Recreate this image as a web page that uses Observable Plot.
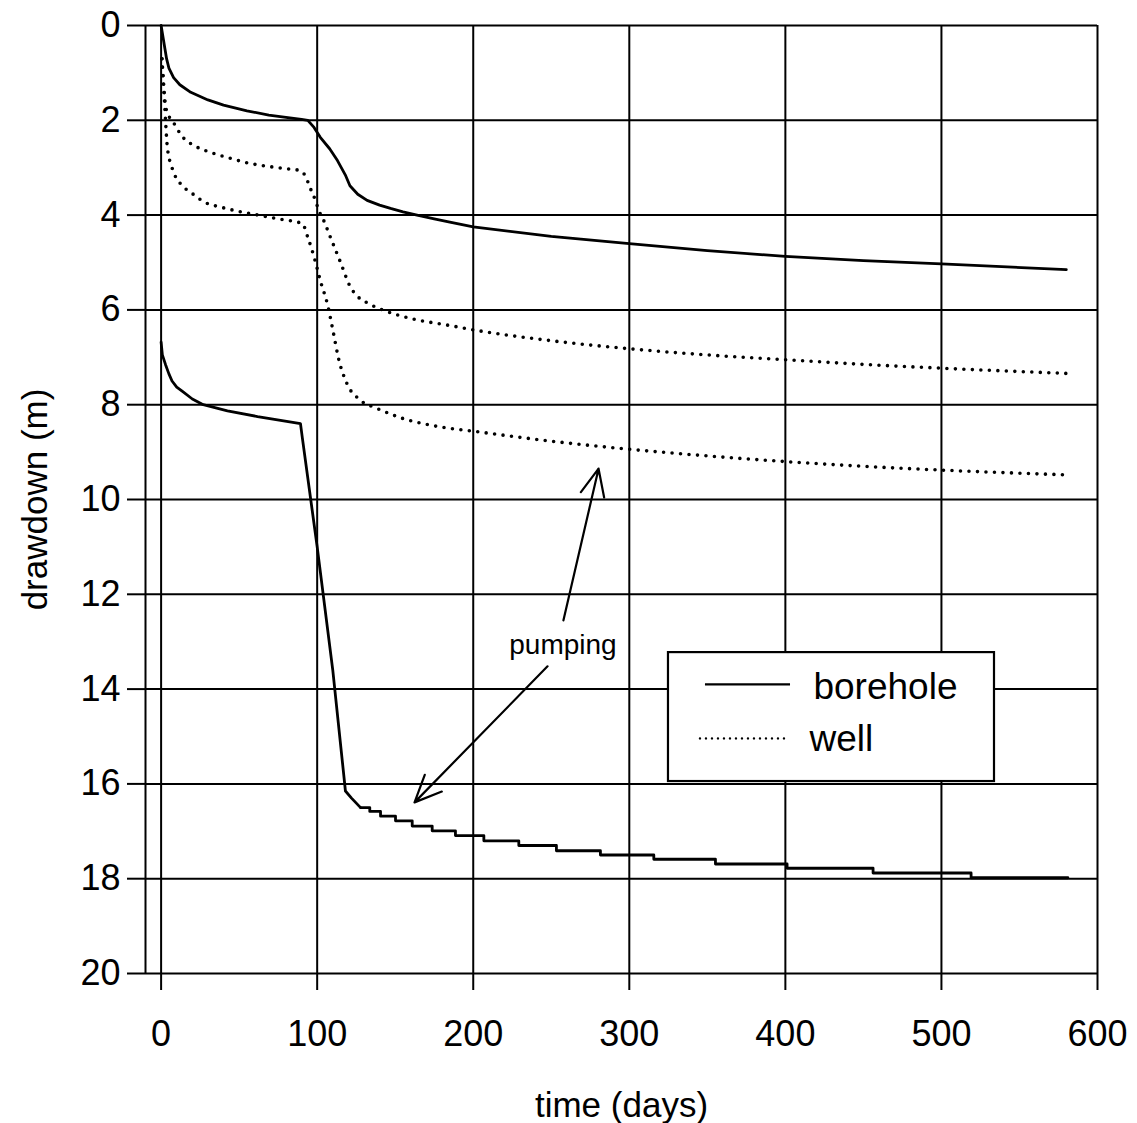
<!DOCTYPE html>
<html>
<head>
<meta charset="utf-8">
<script src="https://cdn.jsdelivr.net/npm/d3@7"></script>
<script src="https://cdn.jsdelivr.net/npm/@observablehq/plot@0.6"></script>
<style>
  html, body { margin: 0; padding: 0; background: #fff; }
  #chart { width: 1137px; height: 1123px; }
</style>
</head>
<body>
<div id="chart"></div>
<script>
// ---- axis ticks ----
const xTicks = [0, 100, 200, 300, 400, 500, 600];
const yTicks = [0, 2, 4, 6, 8, 10, 12, 14, 16, 18, 20];

// ---- series: borehole (upper curve) ----
const boreholeUpperDays = [0, 1.5, 2.5, 3.5, 5, 8, 12, 19, 30, 40, 55, 69, 80, 90, 94, 98, 102, 108, 113, 118, 121, 126, 132, 140, 147, 155, 164, 175, 185, 200, 250, 300, 350, 400, 450, 500, 580];
const boreholeUpperDrawdown = [0, 0.3, 0.5, 0.7, 0.9, 1.1, 1.25, 1.41, 1.57, 1.68, 1.8, 1.89, 1.94, 1.98, 2.0, 2.15, 2.36, 2.6, 2.85, 3.15, 3.38, 3.56, 3.69, 3.79, 3.86, 3.93, 4.0, 4.08, 4.15, 4.25, 4.45, 4.6, 4.75, 4.87, 4.96, 5.03, 5.15];

// ---- series: borehole (lower curve), smooth part ----
const boreholeLowerDays = [0, 0.8, 2.8, 5, 7, 10, 13.7, 20, 27, 42.5, 61.8, 89.3, 90.5, 100, 110, 117, 118.1, 122, 127.8];
const boreholeLowerDrawdown = [6.68, 6.95, 7.15, 7.35, 7.5, 7.63, 7.72, 7.88, 8.0, 8.13, 8.25, 8.4, 8.7, 11.0, 13.6, 15.8, 16.15, 16.3, 16.5];
// ---- stepped tail of the lower borehole curve ----
const boreholeStepDays = [127.8, 133.7, 140.6, 150.2, 160.9, 173.7, 188.6, 206.8, 229.2, 253.3, 281.5, 315.7, 355.2, 401.1, 456.2, 519, 581];
const boreholeStepDrawdown = [16.5, 16.58, 16.68, 16.78, 16.89, 16.99, 17.09, 17.2, 17.3, 17.41, 17.5, 17.59, 17.69, 17.78, 17.88, 17.98, 17.98];

// ---- series: well (upper curve) ----
const wellUpperDays = [0.5, 1.5, 2.5, 4, 7, 14, 21, 32, 42, 57, 68, 80, 89, 92, 95.8, 99, 101, 104, 108.5, 115, 121, 126, 132, 142, 160, 185, 200, 250, 300, 350, 400, 450, 500, 580];
const wellUpperDrawdown = [0.7, 1.2, 1.6, 1.85, 2.0, 2.36, 2.53, 2.68, 2.78, 2.91, 2.97, 3.02, 3.06, 3.15, 3.45, 3.7, 3.9, 4.1, 4.47, 5.0, 5.5, 5.72, 5.85, 6.0, 6.18, 6.33, 6.42, 6.65, 6.82, 6.95, 7.05, 7.15, 7.23, 7.34];

// ---- series: well (lower curve) ----
const wellLowerDays = [0.5, 2, 3, 4, 7, 12.4, 19, 28, 38, 51, 59, 75, 90.5, 94, 99, 102, 106.5, 110.5, 113.5, 119, 127.5, 138.5, 153, 181, 200, 250, 300, 350, 400, 450, 500, 580];
const wellLowerDrawdown = [0.7, 1.5, 2.1, 2.57, 3.0, 3.34, 3.52, 3.73, 3.83, 3.93, 3.98, 4.08, 4.18, 4.47, 5.0, 5.38, 5.87, 6.5, 7.0, 7.55, 7.9, 8.08, 8.27, 8.48, 8.56, 8.77, 8.94, 9.08, 9.2, 9.3, 9.38, 9.48];

// ---- labels ----
const legendLabels = ["borehole", "well"];
const annotationText = "pumping";

const zip = (xs, ys) => xs.map((t, i) => ({t, d: ys[i]}));
const boreholeUpper = zip(boreholeUpperDays, boreholeUpperDrawdown);
const boreholeLower = zip(boreholeLowerDays, boreholeLowerDrawdown);
const boreholeSteps = zip(boreholeStepDays, boreholeStepDrawdown);
const wellUpper = zip(wellUpperDays, wellUpperDrawdown);
const wellLower = zip(wellLowerDays, wellLowerDrawdown);

const solid = {x: "t", y: "d", stroke: "black", strokeWidth: 2.8, strokeLinejoin: "round"};
const dotted = {x: "t", y: "d", stroke: "black", strokeWidth: 3.6, strokeDasharray: "0,8.5", strokeLinecap: "round", curve: "monotone-x"};
const gridStyle = {stroke: "black", strokeOpacity: 1, strokeWidth: 2};

const chart = Plot.plot({
  width: 1137,
  height: 1123,
  marginLeft: 145,
  marginRight: 40,
  marginTop: 25,
  marginBottom: 150,
  x: {domain: [-10, 600]},
  y: {domain: [0, 20], reverse: true},
  style: {fontFamily: "'Liberation Sans', Arial, Helvetica, sans-serif", color: "black", background: "white", overflow: "visible"},
  marks: [
    Plot.gridX(xTicks, gridStyle),
    Plot.gridY(yTicks, gridStyle),
    Plot.ruleX([-10], gridStyle),
    Plot.axisY({ticks: yTicks, tickSize: 18, tickPadding: 7, fontSize: 36, strokeWidth: 2, label: null, tickFormat: d => String(d)}),
    Plot.axisX({ticks: xTicks, tickSize: 17, tickPadding: 30, fontSize: 36, strokeWidth: 2, label: null, tickFormat: d => String(d)}),
    Plot.text(["drawdown (m)"], {frameAnchor: "left", dx: -110, rotate: -90, textAnchor: "middle", lineAnchor: "middle", fontSize: 35, text: d => d, fill: "black"}),
    Plot.text(["time (days)"], {frameAnchor: "bottom", dy: 132, textAnchor: "middle", lineAnchor: "middle", fontSize: 35, text: d => d, fill: "black"}),

    // data
    Plot.line(boreholeUpper, solid),
    Plot.line(boreholeLower, solid),
    Plot.line(boreholeSteps, {...solid, curve: "step-after"}),
    Plot.line(wellUpper, dotted),
    Plot.line(wellLower, dotted),

    // annotation
    Plot.text([annotationText], {x: () => 257.5, y: () => 13.06, text: d => d, fontSize: 28, fill: "black"}),
    Plot.arrow([0], {x1: () => 257.8, y1: () => 12.55, x2: () => 280.3, y2: () => 9.35, stroke: "black", strokeWidth: 2.2, headLength: 20, headAngle: 48}),
    Plot.arrow([0], {x1: () => 247.6, y1: () => 13.52, x2: () => 162.4, y2: () => 16.39, stroke: "black", strokeWidth: 2.2, headLength: 20, headAngle: 48}),

    // legend
    Plot.rect([0], {x1: () => 325.1, x2: () => 534.0, y1: () => 13.23, y2: () => 15.95, fill: "white", stroke: "black", strokeWidth: 2.2}),
    Plot.ruleY([0], {x1: () => 348.8, x2: () => 403.3, y: () => 13.9, stroke: "black", strokeWidth: 2.2}),
    Plot.ruleY([0], {x1: () => 345.6, x2: () => 400.1, y: () => 15.04, stroke: "black", strokeWidth: 2.4, strokeDasharray: "0,6", strokeLinecap: "round"}),
    Plot.text([legendLabels[0]], {x: () => 418.0, y: () => 13.955, text: d => d, textAnchor: "start", fontSize: 37, fill: "black"}),
    Plot.text([legendLabels[1]], {x: () => 415.5, y: () => 15.05, text: d => d, textAnchor: "start", fontSize: 37, fill: "black"})
  ]
});

document.getElementById("chart").appendChild(chart);
</script>
</body>
</html>
